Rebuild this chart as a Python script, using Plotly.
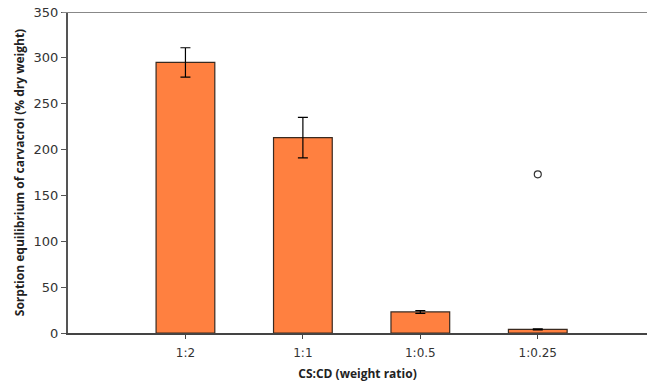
import plotly.graph_objects as go

categories = ["1:2", "1:1", "1:0.5", "1:0.25"]
values = [295, 213, 23, 4]
errors = [16, 22, 1.5, 0.6]
outlier_cat = ["1:0.25"]
outlier_val = [173]
y_ticks = [0, 50, 100, 150, 200, 250, 300, 350]

fig = go.Figure()
fig.add_trace(go.Bar(
    x=list(range(len(categories))), y=values,
    width=0.5,
    marker=dict(color="#FF8040", line=dict(color="#3a2a20", width=1.2)),
    error_y=dict(type="data", array=errors, color="black", thickness=1.2, width=5),
    showlegend=False,
))
fig.add_trace(go.Scatter(
    x=[categories.index(c) for c in outlier_cat], y=outlier_val,
    mode="markers",
    marker=dict(symbol="circle-open", size=7, color="#333333", line=dict(width=1.2)),
    showlegend=False,
))

fig.add_shape(type="line", xref="paper", yref="y", x0=-0.01, x1=1, y0=350, y1=350,
              line=dict(color="#888888", width=2))

fig.update_layout(
    width=647, height=382,
    margin=dict(l=68, r=0, t=12, b=49),
    paper_bgcolor="white", plot_bgcolor="white",
    font=dict(family="DejaVu Sans", size=12, color="#333333"),
    xaxis=dict(
        range=[-1, 3.93],
        tickmode="array", tickvals=list(range(len(categories))), ticktext=categories,
        showline=True, linecolor="#444444", linewidth=2,
        ticks="outside", ticklen=4, tickcolor="#444444",
        ticklabelstandoff=4,
        showgrid=False, zeroline=False,
        title=dict(text="<b>CS:CD (weight ratio)</b>", standoff=10,
                   font=dict(family="Open Sans", size=12, color="#222222")),
        tickfont=dict(family="DejaVu Sans", size=12, color="#333333"),
    ),
    yaxis=dict(
        range=[0, 350],
        tickvals=y_ticks,
        showline=True, linecolor="#555555", linewidth=2,
        ticks="outside", ticklen=5, tickcolor="#555555",
        showgrid=False, zeroline=False,
        title=dict(text="<b>Sorption equilibrium of carvacrol (% dry weight)</b>", standoff=6,
                   font=dict(family="Open Sans", size=12, color="#222222")),
        tickfont=dict(family="DejaVu Sans", size=13, color="#333333"),
    ),
)

fig.write_html("out.html")
